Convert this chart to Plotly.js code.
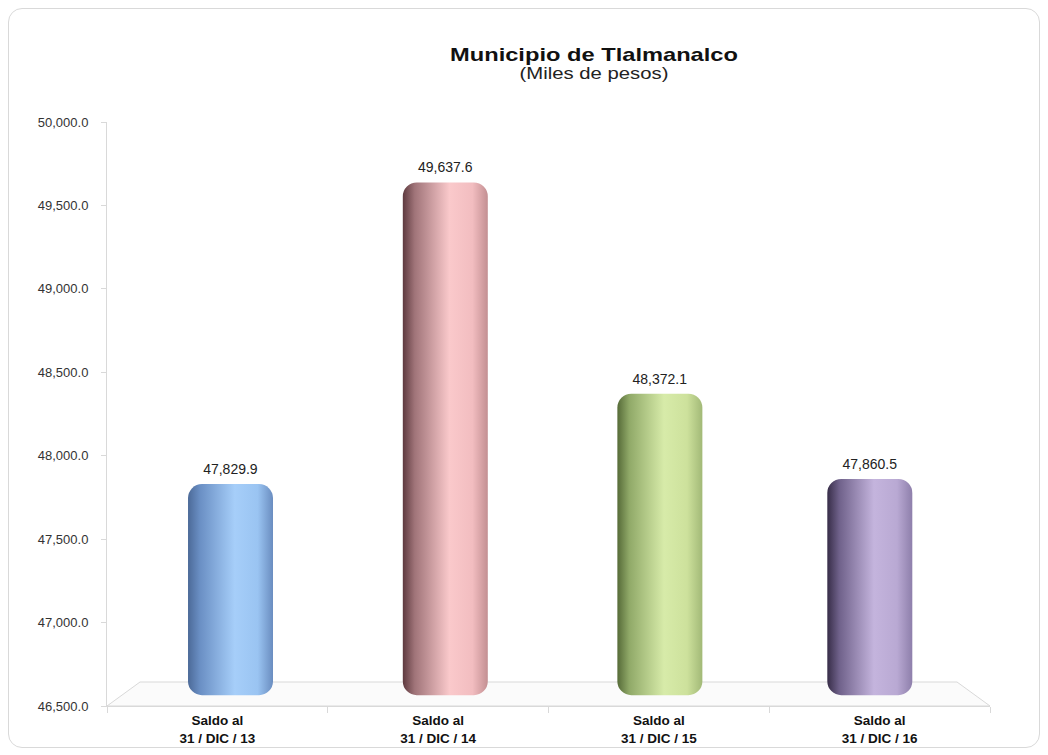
<!DOCTYPE html>
<html>
<head>
<meta charset="utf-8">
<script src="https://cdn.plot.ly/plotly-3.0.1.min.js"></script>
<style>
  html, body { margin:0; padding:0; background:#fff; }
  #wrap { position:relative; width:1048px; height:755px; }
  #chart { position:absolute; left:0; top:0; width:1048px; height:755px; }
  #frame { position:absolute; left:8px; top:8px; width:1030px; height:738px; border:1px solid #d9d9d9; border-radius:14px; pointer-events:none; }
</style>
</head>
<body>
<div id="wrap">
  <div id="chart"></div>
  <div id="frame"></div>
</div>
<script>
// ---- data ----
const categories = ["Saldo al<br>31 / DIC / 13", "Saldo al<br>31 / DIC / 14", "Saldo al<br>31 / DIC / 15", "Saldo al<br>31 / DIC / 16"];
const values = [47829.9, 49637.6, 48372.1, 47860.5];
const yTickVals = [46500, 47000, 47500, 48000, 48500, 49000, 49500, 50000];
const baseColors = ["#8fb6e6", "#e8b4b7", "#c3d896", "#ad9dc8"];

// ---- style ----
const BAR_BASE = 46565; // bars stand on the 3D floor, slightly above the axis
const FONT = "Liberation Sans, Arial, sans-serif";
const gradients = [
  [["0%","#4c6a98"],["14%","#6a8fc4"],["55%","#a6cef9"],["82%","#9ac4f2"],["100%","#6a8dc0"]],
  [["0%","#5e3a3f"],["14%","#a07479"],["55%","#fac9cb"],["82%","#f2bdc0"],["100%","#c38f92"]],
  [["0%","#566b38"],["14%","#90a968"],["55%","#d7eba9"],["82%","#cde19c"],["100%","#a2b977"]],
  [["0%","#372d48"],["14%","#6f618a"],["55%","#c4b4dd"],["82%","#b9a9d3"],["100%","#8e7fab"]]
];
const fmt = v => v.toLocaleString("en-US", {minimumFractionDigits:1, maximumFractionDigits:1});

const trace = {
  type: "bar",
  x: categories,
  y: values.map(v => v - BAR_BASE),
  base: BAR_BASE,
  width: 0.385,
  offset: [-0.133, -0.16, -0.188, -0.237],
  marker: { color: baseColors, cornerradius: 14, line: { width: 0 } },
  text: values.map(fmt),
  textposition: "outside",
  textfont: { family: FONT, size: 14, color: "#222" },
  cliponaxis: false,
  hoverinfo: "skip"
};

const layout = {
  width: 1048, height: 755,
  margin: { l: 107, r: 58, t: 122, b: 49 },
  paper_bgcolor: "rgba(0,0,0,0)",
  plot_bgcolor: "rgba(0,0,0,0)",
  showlegend: false,
  title: {
    text: "<b>Municipio de Tlalmanalco</b>",
    font: { family: FONT, size: 18.5, color: "#111" },
    x: 594/1048, xref: "container", xanchor: "center",
    y: 1 - 61/755, yref: "container", yanchor: "bottom",
    subtitle: { text: "(Miles de pesos)", font: { family: FONT, size: 16.5, color: "#222" } }
  },
  xaxis: {
    showgrid: false, zeroline: false,
    showline: true, linecolor: "#d9d9d9", linewidth: 1,
    ticks: "outside", tickson: "boundaries", ticklen: 6, tickcolor: "#d9d9d9",
    ticklabelstandoff: 2,
    tickfont: { family: FONT, size: 13.5, color: "#111", weight: "bold" },
    fixedrange: true
  },
  yaxis: {
    range: [46500, 50000],
    tickvals: yTickVals,
    ticktext: yTickVals.map(fmt),
    showgrid: false, zeroline: false,
    showline: true, linecolor: "#d9d9d9", linewidth: 1,
    ticks: "outside", ticklen: 5, tickcolor: "#d9d9d9",
    ticklabelstandoff: 10,
    tickfont: { family: FONT, size: 13, color: "#333" },
    fixedrange: true
  },
  shapes: [
    {
      type: "path", xref: "paper", yref: "paper", layer: "below",
      path: "M 0 0 L 1 0 L " + (850/883) + " " + (24/584) + " L " + (33/883) + " " + (24/584) + " Z",
      fillcolor: "#fbfbfb",
      line: { color: "#d9d9d9", width: 1 }
    }
  ]
};

function widen(el, s, dy) {
  const cx = parseFloat(el.getAttribute("x")) || 0;
  const tr = el.getAttribute("transform") || "";
  el.setAttribute("transform",
    "translate(" + (cx * (1 - s)) + "," + dy + ") scale(" + s + ",1) " + tr);
}

Plotly.newPlot("chart", [trace], layout, { staticPlot: true, displayModeBar: false }).then(function () {
  const svg = document.querySelector("#chart .main-svg");
  const ns = "http://www.w3.org/2000/svg";
  const defs = document.createElementNS(ns, "defs");
  gradients.forEach(function (stops, i) {
    const g = document.createElementNS(ns, "linearGradient");
    g.setAttribute("id", "cylGrad" + i);
    g.setAttribute("x1", "0"); g.setAttribute("y1", "0");
    g.setAttribute("x2", "1"); g.setAttribute("y2", "0");
    stops.forEach(function (s) {
      const st = document.createElementNS(ns, "stop");
      st.setAttribute("offset", s[0]);
      st.setAttribute("stop-color", s[1]);
      g.appendChild(st);
    });
    defs.appendChild(g);
  });
  svg.insertBefore(defs, svg.firstChild);
  document.querySelectorAll("#chart .bars .point path").forEach(function (p, i) {
    p.style.setProperty("fill", "url(#cylGrad" + i + ")");
  });
  // lift value labels a little, as in the reference
  document.querySelectorAll("#chart .bars .point text").forEach(function (t) {
    const tr = t.getAttribute("transform") || "";
    t.setAttribute("transform", "translate(0,-4) " + tr);
  });
  // the reference title is set wide
  document.querySelectorAll("#chart .gtitle").forEach(function (t) { widen(t, 1.28, 0); });
  document.querySelectorAll("#chart .gtitle-subtitle").forEach(function (t) { widen(t, 1.23, -12); });
});
</script>
</body>
</html>
